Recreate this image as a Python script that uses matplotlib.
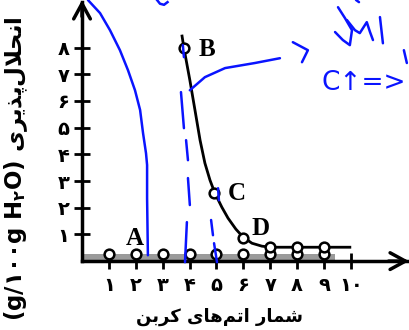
import matplotlib
matplotlib.use('Agg')
import matplotlib.pyplot as plt
from matplotlib.patches import Rectangle

# ---------------- data ----------------
FA_DIGITS = '۰۱۲۳۴۵۶۷۸۹'

carbon_numbers = [1, 2, 3, 4, 5, 6, 7, 8, 9]
hydrocarbon_solubility = [0.27, 0.27, 0.27, 0.27, 0.27, 0.27, 0.27, 0.27, 0.27]

alcohol_carbons = [3.8, 4.9, 6.0, 7.0, 8.0, 9.0]
alcohol_solubility = [8.0, 2.55, 0.86, 0.52, 0.52, 0.52]

curve_x = [3.72, 3.79, 4.01, 4.20, 4.39, 4.57, 4.76, 4.94, 5.20, 5.43, 5.72,
           5.99, 6.32, 6.69, 7.03, 9.96]
curve_y = [8.43, 7.98, 6.78, 5.66, 4.53, 3.67, 3.03, 2.55, 2.02, 1.61, 1.20,
           0.90, 0.67, 0.56, 0.52, 0.52]

x_ticks = [1, 2, 3, 4, 5, 6, 7, 8, 9, 10]
y_ticks = [1, 2, 3, 4, 5, 6, 7, 8]

point_labels = ['A', 'B', 'C', 'D']
point_label_x = [1.97, 4.65, 5.76, 6.65]
point_label_y = [0.86, 7.94, 2.55, 1.24]

band_end = 9.4

# hand-drawn blue ink annotations (data units)
ink_curve_x = [0.22, 0.67, 1.04, 1.41, 1.71, 1.97, 2.16, 2.27, 2.38, 2.42, 2.42, 2.45]
ink_curve_y = [9.78, 9.29, 8.65, 7.90, 7.15, 6.40, 5.66, 4.79, 4.04, 3.60, 2.36, 0.22]
ink_top_x = [2.79, 2.90, 3.05, 3.18]
ink_top_y = [9.78, 9.64, 9.60, 9.70]
ink_dash1 = [((3.75, 8.09), (3.79, 7.64)), ((3.68, 6.33), (3.79, 4.98)),
             ((3.87, 4.53), (3.94, 3.78)), ((3.94, 3.11), (4.01, 2.10)),
             ((3.90, 1.46), (3.83, -0.04))]
ink_dash2 = [((5.06, 2.73), (5.09, 2.28)), ((4.80, 1.54), (4.87, 0.97)),
             ((4.91, 0.67), (5.02, -0.04))]
ink_arc_x = [4.01, 4.57, 5.32, 6.43, 7.36]
ink_arc_y = [6.40, 6.89, 7.23, 7.42, 7.60]
ink_chev_x = [7.84, 8.40, 8.18]
ink_chev_y = [8.20, 7.90, 7.45]
ink_scribble = [
    ([9.52, 9.78, 10.04, 9.96, 9.70, 9.41], [9.51, 9.10, 8.65, 8.09, 8.28, 8.58]),
    ([9.85, 10.15, 10.33, 10.59, 10.71, 10.82], [9.03, 8.65, 8.54, 8.95, 8.58, 8.28]),
    ([11.08, 11.19], [9.14, 8.16]),
    ([10.19, 10.30], [9.78, 9.70]),
    ([11.97, 12.08], [7.90, 7.42]),
]
ink_text = 'C↑=>'

y_label_fa = 'انحلال‌پذیری'
y_label_unit = '(g/۱۰۰g H$_{\\mathbf{۲}}$O)'
x_label_fa = 'شمار اتم‌های کربن'

# ---------------- Persian shaping ----------------
FORMS = {
    'ا': ('\uFE8D', '\uFE8E', None, None),
    'ب': ('\uFE8F', '\uFE90', '\uFE91', '\uFE92'),
    'پ': ('\uFB56', '\uFB57', '\uFB58', '\uFB59'),
    'ت': ('\uFE95', '\uFE96', '\uFE97', '\uFE98'),
    'ح': ('\uFEA1', '\uFEA2', '\uFEA3', '\uFEA4'),
    'ذ': ('\uFEAB', '\uFEAC', None, None),
    'ر': ('\uFEAD', '\uFEAE', None, None),
    'ش': ('\uFEB5', '\uFEB6', '\uFEB7', '\uFEB8'),
    'ک': ('\uFB8E', '\uFB8F', '\uFB90', '\uFB91'),
    'ل': ('\uFEDD', '\uFEDE', '\uFEDF', '\uFEE0'),
    'م': ('\uFEE1', '\uFEE2', '\uFEE3', '\uFEE4'),
    'ن': ('\uFEE5', '\uFEE6', '\uFEE7', '\uFEE8'),
    'ه': ('\uFEE9', '\uFEEA', '\uFEEB', '\uFEEC'),
    'ی': ('\uFBFC', '\uFBFD', '\uFBFE', '\uFBFF'),
}


def _dual(c):
    return c in FORMS and FORMS[c][2] is not None


def shape(text):
    out = []
    n = len(text)
    i = 0
    while i < n:
        c = text[i]
        if c not in FORMS:
            if c != '\u200c':
                out.append(c)
            i += 1
            continue
        prev = text[i - 1] if i > 0 else None
        conn_prev = prev is not None and _dual(prev)
        if c == 'ل' and i + 1 < n and text[i + 1] == 'ا':
            out.append('\uFEFC' if conn_prev else '\uFEFB')
            i += 2
            continue
        nxt = text[i + 1] if i + 1 < n else None
        conn_next = _dual(c) and nxt is not None and nxt in FORMS
        iso, fin, ini, med = FORMS[c]
        if conn_prev and conn_next:
            g = med
        elif conn_prev:
            g = fin
        elif conn_next:
            g = ini
        else:
            g = iso
        out.append(g)
        i += 1
    return ''.join(reversed(out))


def fa(n):
    return ''.join(FA_DIGITS[int(d)] for d in str(n))


# ---------------- figure ----------------
fig = plt.figure(figsize=(4.09, 3.30), dpi=100, facecolor='white')
ax = fig.add_axes([0, 0, 1, 1])
ax.set_xlim(-3.05, 12.16)
ax.set_ylim(-2.58, 9.78)
ax.set_facecolor('white')

for s in ('top', 'right'):
    ax.spines[s].set_visible(False)
ax.spines['left'].set_position(('data', 0))
ax.spines['bottom'].set_position(('data', 0))
ax.spines['left'].set_bounds(0, 9.7)
ax.spines['bottom'].set_bounds(0, 12.1)
for s in ('left', 'bottom'):
    ax.spines[s].set_linewidth(2.5)
    ax.spines[s].set_zorder(4)

fa_font = dict(family='DejaVu Sans', weight='bold')
ax.set_xticks(x_ticks)
ax.set_xticklabels([fa(v) for v in x_ticks], fontsize=14, **fa_font)
ax.set_yticks(y_ticks)
ax.set_yticklabels([fa(v) for v in y_ticks], fontsize=14, **fa_font)
ax.tick_params(axis='x', direction='inout', length=11, width=2, pad=5)
ax.tick_params(axis='y', direction='inout', length=12, width=2, pad=3)

arrow_kw = dict(arrowstyle='->,head_length=1.1,head_width=0.6', lw=2.5,
                color='black', shrinkA=0, shrinkB=0)
ax.annotate('', xy=(1.0, 0), xycoords=('axes fraction', 'data'),
            xytext=(0.95, 0), textcoords=('axes fraction', 'data'),
            arrowprops=arrow_kw, zorder=5)
ax.annotate('', xy=(0, 1.0), xycoords=('data', 'axes fraction'),
            xytext=(0, 0.95), textcoords=('data', 'axes fraction'),
            arrowprops=arrow_kw, zorder=5)

# grey band
ax.add_patch(Rectangle((0, 0), band_end, 0.25, facecolor='#9a9a9a',
                       edgecolor='none', zorder=2))

# stems
ax.vlines(carbon_numbers, 0, [v + 0.2 for v in hydrocarbon_solubility],
          color='black', lw=1.8, zorder=3)
ax.vlines(alcohol_carbons[3:], 0, alcohol_solubility[3:],
          color='black', lw=1.8, zorder=3)

# solubility curve
ax.plot(curve_x, curve_y, color='black', lw=2, zorder=5,
        solid_joinstyle='round')

ax.plot(carbon_numbers, hydrocarbon_solubility, linestyle='none', marker='o',
        ms=7, mfc='white', mec='black', mew=1.8, zorder=6)
ax.plot(alcohol_carbons, alcohol_solubility, linestyle='none', marker='o',
        ms=7, mfc='white', mec='black', mew=1.8, zorder=6)

for lab, lx, ly in zip(point_labels, point_label_x, point_label_y):
    ax.text(lx, ly, lab, fontsize=18, fontweight='bold',
            family='Liberation Serif', ha='center', va='center', zorder=7)

# axis titles
ax.text(-2.45, 3.48, y_label_unit + ' ' + shape(y_label_fa), rotation=90,
        ha='center', va='center', fontsize=16.5, **fa_font)
ax.text(5.13, -2.08, shape(x_label_fa), ha='center', va='center',
        fontsize=13, **fa_font)

# blue ink
ink = '#0a14ff'
ink_lw = 1.8
ax.plot(ink_curve_x, ink_curve_y, color=ink, lw=ink_lw, zorder=8,
        solid_capstyle='round', solid_joinstyle='round')
ax.plot(ink_top_x, ink_top_y, color=ink, lw=ink_lw, zorder=8)
for seg in ink_dash1 + ink_dash2:
    ax.plot([seg[0][0], seg[1][0]], [seg[0][1], seg[1][1]], color=ink,
            lw=ink_lw, zorder=8, solid_capstyle='round')
ax.plot(ink_arc_x, ink_arc_y, color=ink, lw=ink_lw, zorder=8,
        solid_capstyle='round', solid_joinstyle='round')
ax.plot(ink_chev_x, ink_chev_y, color=ink, lw=ink_lw, zorder=8,
        solid_capstyle='round')
for sx, sy in ink_scribble:
    ax.plot(sx, sy, color=ink, lw=ink_lw, zorder=8, solid_capstyle='round',
            solid_joinstyle='round')
ax.text(8.92, 6.67, ink_text, color=ink, fontsize=19, family='DejaVu Sans',
        ha='left', va='center', zorder=8)

fig.savefig('out.png', dpi=100, facecolor='white')
